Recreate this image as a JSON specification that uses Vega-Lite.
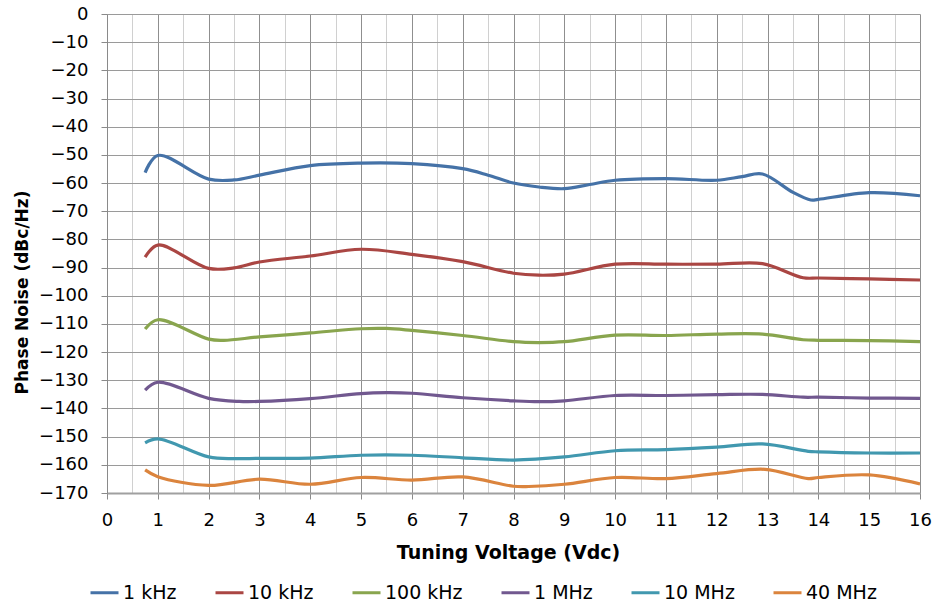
{
  "$schema": "https://vega.github.io/schema/vega-lite/v6.json",
  "width": 813,
  "height": 479,
  "autosize": {"type": "none"},
  "padding": {"left": 107, "top": 14, "right": 16, "bottom": 113},
  "background": "white",
  "config": {
    "view": {"stroke": null},
    "font": "DejaVu Sans",
    "axis": {"labelFont": "DejaVu Sans", "titleFont": "DejaVu Sans", "labelColor": "#000000", "titleColor": "#000000"}
  },
  "data": {
    "values": [
      {"v": 0.75, "db": -56.3, "s": "1 kHz"},
      {"v": 1, "db": -50.2, "s": "1 kHz"},
      {"v": 2, "db": -58.6, "s": "1 kHz"},
      {"v": 2.5, "db": -58.9, "s": "1 kHz"},
      {"v": 3, "db": -57.2, "s": "1 kHz"},
      {"v": 4, "db": -53.8, "s": "1 kHz"},
      {"v": 5, "db": -52.9, "s": "1 kHz"},
      {"v": 6, "db": -53.1, "s": "1 kHz"},
      {"v": 7, "db": -54.9, "s": "1 kHz"},
      {"v": 7.5, "db": -57.2, "s": "1 kHz"},
      {"v": 8, "db": -60.0, "s": "1 kHz"},
      {"v": 8.5, "db": -61.4, "s": "1 kHz"},
      {"v": 9, "db": -62.0, "s": "1 kHz"},
      {"v": 9.5, "db": -60.5, "s": "1 kHz"},
      {"v": 10, "db": -59.0, "s": "1 kHz"},
      {"v": 11, "db": -58.4, "s": "1 kHz"},
      {"v": 12, "db": -59.0, "s": "1 kHz"},
      {"v": 12.5, "db": -57.7, "s": "1 kHz"},
      {"v": 12.9, "db": -56.8, "s": "1 kHz"},
      {"v": 13.5, "db": -63.3, "s": "1 kHz"},
      {"v": 13.85, "db": -66.0, "s": "1 kHz"},
      {"v": 14, "db": -65.8, "s": "1 kHz"},
      {"v": 15, "db": -63.4, "s": "1 kHz"},
      {"v": 16, "db": -64.5, "s": "1 kHz"},

      {"v": 0.75, "db": -86.3, "s": "10 kHz"},
      {"v": 1, "db": -82.0, "s": "10 kHz"},
      {"v": 2, "db": -90.3, "s": "10 kHz"},
      {"v": 2.5, "db": -90.1, "s": "10 kHz"},
      {"v": 3, "db": -88.0, "s": "10 kHz"},
      {"v": 4, "db": -85.9, "s": "10 kHz"},
      {"v": 5, "db": -83.5, "s": "10 kHz"},
      {"v": 6, "db": -85.3, "s": "10 kHz"},
      {"v": 7, "db": -87.9, "s": "10 kHz"},
      {"v": 8, "db": -92.0, "s": "10 kHz"},
      {"v": 8.5, "db": -92.7, "s": "10 kHz"},
      {"v": 9, "db": -92.3, "s": "10 kHz"},
      {"v": 10, "db": -88.8, "s": "10 kHz"},
      {"v": 11, "db": -88.8, "s": "10 kHz"},
      {"v": 12, "db": -88.8, "s": "10 kHz"},
      {"v": 12.9, "db": -88.6, "s": "10 kHz"},
      {"v": 13.7, "db": -93.6, "s": "10 kHz"},
      {"v": 14, "db": -93.7, "s": "10 kHz"},
      {"v": 15, "db": -94.0, "s": "10 kHz"},
      {"v": 16, "db": -94.4, "s": "10 kHz"},

      {"v": 0.75, "db": -111.8, "s": "100 kHz"},
      {"v": 1, "db": -108.5, "s": "100 kHz"},
      {"v": 2, "db": -115.4, "s": "100 kHz"},
      {"v": 2.3, "db": -115.8, "s": "100 kHz"},
      {"v": 3, "db": -114.6, "s": "100 kHz"},
      {"v": 4, "db": -113.2, "s": "100 kHz"},
      {"v": 5, "db": -111.7, "s": "100 kHz"},
      {"v": 5.5, "db": -111.6, "s": "100 kHz"},
      {"v": 6, "db": -112.3, "s": "100 kHz"},
      {"v": 7, "db": -114.1, "s": "100 kHz"},
      {"v": 8, "db": -116.3, "s": "100 kHz"},
      {"v": 8.5, "db": -116.6, "s": "100 kHz"},
      {"v": 9, "db": -116.3, "s": "100 kHz"},
      {"v": 10, "db": -114.0, "s": "100 kHz"},
      {"v": 11, "db": -114.1, "s": "100 kHz"},
      {"v": 12, "db": -113.6, "s": "100 kHz"},
      {"v": 12.9, "db": -113.6, "s": "100 kHz"},
      {"v": 13.7, "db": -115.6, "s": "100 kHz"},
      {"v": 14, "db": -115.8, "s": "100 kHz"},
      {"v": 15, "db": -115.9, "s": "100 kHz"},
      {"v": 16, "db": -116.3, "s": "100 kHz"},

      {"v": 0.75, "db": -133.5, "s": "1 MHz"},
      {"v": 1, "db": -130.7, "s": "1 MHz"},
      {"v": 2, "db": -136.4, "s": "1 MHz"},
      {"v": 2.6, "db": -137.5, "s": "1 MHz"},
      {"v": 3, "db": -137.5, "s": "1 MHz"},
      {"v": 4, "db": -136.5, "s": "1 MHz"},
      {"v": 5, "db": -134.7, "s": "1 MHz"},
      {"v": 5.5, "db": -134.4, "s": "1 MHz"},
      {"v": 6, "db": -134.6, "s": "1 MHz"},
      {"v": 7, "db": -136.2, "s": "1 MHz"},
      {"v": 8, "db": -137.3, "s": "1 MHz"},
      {"v": 8.5, "db": -137.6, "s": "1 MHz"},
      {"v": 9, "db": -137.3, "s": "1 MHz"},
      {"v": 10, "db": -135.4, "s": "1 MHz"},
      {"v": 11, "db": -135.4, "s": "1 MHz"},
      {"v": 12, "db": -135.1, "s": "1 MHz"},
      {"v": 12.9, "db": -135.0, "s": "1 MHz"},
      {"v": 13.7, "db": -136.0, "s": "1 MHz"},
      {"v": 14, "db": -136.0, "s": "1 MHz"},
      {"v": 15, "db": -136.3, "s": "1 MHz"},
      {"v": 16, "db": -136.4, "s": "1 MHz"},

      {"v": 0.75, "db": -152.2, "s": "10 MHz"},
      {"v": 1, "db": -150.8, "s": "10 MHz"},
      {"v": 2, "db": -157.2, "s": "10 MHz"},
      {"v": 2.5, "db": -157.8, "s": "10 MHz"},
      {"v": 3, "db": -157.7, "s": "10 MHz"},
      {"v": 4, "db": -157.6, "s": "10 MHz"},
      {"v": 5, "db": -156.6, "s": "10 MHz"},
      {"v": 6, "db": -156.6, "s": "10 MHz"},
      {"v": 7, "db": -157.5, "s": "10 MHz"},
      {"v": 8, "db": -158.3, "s": "10 MHz"},
      {"v": 9, "db": -157.2, "s": "10 MHz"},
      {"v": 10, "db": -155.0, "s": "10 MHz"},
      {"v": 11, "db": -154.6, "s": "10 MHz"},
      {"v": 12, "db": -153.7, "s": "10 MHz"},
      {"v": 12.9, "db": -152.6, "s": "10 MHz"},
      {"v": 13.8, "db": -155.2, "s": "10 MHz"},
      {"v": 14, "db": -155.4, "s": "10 MHz"},
      {"v": 15, "db": -155.8, "s": "10 MHz"},
      {"v": 16, "db": -155.8, "s": "10 MHz"},

      {"v": 0.75, "db": -161.8, "s": "40 MHz"},
      {"v": 1, "db": -164.2, "s": "40 MHz"},
      {"v": 2, "db": -167.3, "s": "40 MHz"},
      {"v": 3, "db": -165.1, "s": "40 MHz"},
      {"v": 4, "db": -166.9, "s": "40 MHz"},
      {"v": 5, "db": -164.5, "s": "40 MHz"},
      {"v": 6, "db": -165.4, "s": "40 MHz"},
      {"v": 7, "db": -164.3, "s": "40 MHz"},
      {"v": 8, "db": -167.6, "s": "40 MHz"},
      {"v": 8.3, "db": -167.7, "s": "40 MHz"},
      {"v": 9, "db": -166.9, "s": "40 MHz"},
      {"v": 10, "db": -164.5, "s": "40 MHz"},
      {"v": 11, "db": -164.9, "s": "40 MHz"},
      {"v": 12, "db": -163.1, "s": "40 MHz"},
      {"v": 12.95, "db": -161.6, "s": "40 MHz"},
      {"v": 13.8, "db": -164.9, "s": "40 MHz"},
      {"v": 14, "db": -164.5, "s": "40 MHz"},
      {"v": 15, "db": -163.6, "s": "40 MHz"},
      {"v": 16, "db": -166.8, "s": "40 MHz"}
    ]
  },
  "mark": {"type": "line", "interpolate": "catmull-rom", "strokeWidth": 3.2, "clip": true},
  "encoding": {
    "x": {
      "field": "v",
      "type": "quantitative",
      "scale": {"domain": [0, 16], "nice": false, "zero": false},
      "axis": {
        "title": "Tuning Voltage (Vdc)",
        "values": [0, 0.5, 1, 1.5, 2, 2.5, 3, 3.5, 4, 4.5, 5, 5.5, 6, 6.5, 7, 7.5, 8, 8.5, 9, 9.5, 10, 10.5, 11, 11.5, 12, 12.5, 13, 13.5, 14, 14.5, 15, 15.5, 16],
        "labelExpr": "datum.value % 1 === 0 ? format(datum.value, 'd') : ''",
        "labelFontSize": 18,
        "labelPadding": 12,
        "labelFlush": false,
        "labelOverlap": false,
        "tickSize": 6,
        "tickColor": "#8a8a8a",
        "tickOpacity": {"condition": {"test": "datum.value % 1 !== 0", "value": 0}, "value": 1},
        "domainColor": "#a0a0a0",
        "domainWidth": 2,
        "grid": true,
        "gridColor": {"condition": {"test": "datum.value % 1 !== 0", "value": "#d0d0d0"}, "value": "#8f8f8f"},
        "gridWidth": 1,
        "titleFontSize": 19,
        "titleFontWeight": "bold",
        "titleX": 401,
        "titleY": 65,
        "titleAlign": "center",
        "titleBaseline": "alphabetic"
      }
    },
    "y": {
      "field": "db",
      "type": "quantitative",
      "scale": {"domain": [-170, 0], "nice": false, "zero": false},
      "axis": {
        "title": "Phase Noise (dBc/Hz)",
        "values": [0, -10, -20, -30, -40, -50, -60, -70, -80, -90, -100, -110, -120, -130, -140, -150, -160, -170],
        "labelFontSize": 18,
        "labelPadding": 13,
        "labelFlush": false,
        "labelOverlap": false,
        "tickSize": 6,
        "tickColor": "#8a8a8a",
        "domainColor": "#8a8a8a",
        "domainWidth": 1,
        "grid": true,
        "gridColor": "#9a9a9a",
        "gridWidth": 1,
        "titleFontSize": 17,
        "titleFontWeight": "bold",
        "titleX": -85,
        "titleY": 278,
        "titleAngle": -90,
        "titleAlign": "center",
        "titleBaseline": "middle"
      }
    },
    "color": {
      "field": "s",
      "type": "nominal",
      "sort": ["1 kHz", "10 kHz", "100 kHz", "1 MHz", "10 MHz", "40 MHz"],
      "scale": {
        "domain": ["1 kHz", "10 kHz", "100 kHz", "1 MHz", "10 MHz", "40 MHz"],
        "range": ["#4572A7", "#AA4643", "#89A54E", "#71588F", "#4198AF", "#DB843D"]
      },
      "legend": {
        "title": null,
        "orient": "none",
        "direction": "horizontal",
        "legendX": -18,
        "legendY": 563,
        "symbolType": "stroke",
        "symbolSize": 784,
        "symbolStrokeWidth": 3,
        "labelFontSize": 19,
        "labelFont": "DejaVu Sans",
        "labelColor": "#000000",
        "labelOffset": 3,
        "columnPadding": 32,
        "labelLimit": 300
      }
    }
  }
}
